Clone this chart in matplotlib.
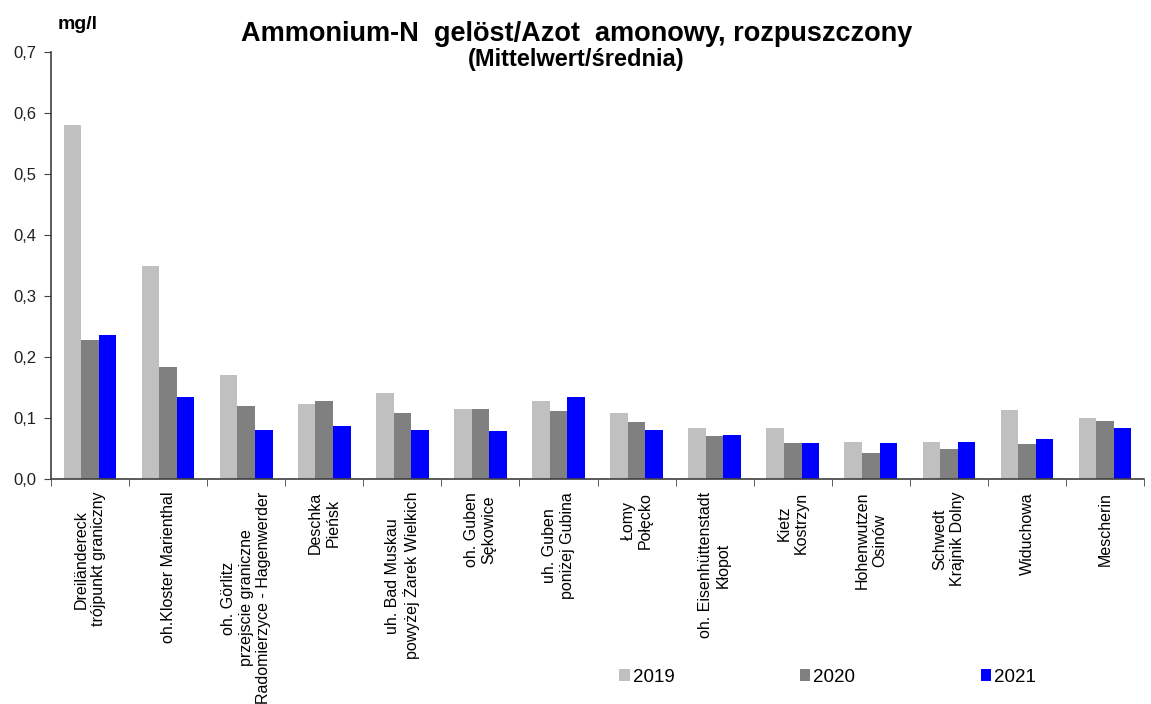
import numpy as np
import matplotlib
matplotlib.use("Agg")
import matplotlib.pyplot as plt
from matplotlib.ticker import FuncFormatter, FixedLocator

plt.rcParams['font.family'] = ['Liberation Sans', 'DejaVu Sans']

# measuring stations (German / Polish names)
stations = [
    "Dreiländereck\ntrójpunkt graniczny",
    "oh.Kloster Marienthal",
    "oh. Görlitz\nprzejscie graniczne\nRadomierzyce - Hagenwerder",
    "Deschka\nPieńsk",
    "uh. Bad Muskau\npowyżej Żarek Wielkich",
    "oh. Guben\nSękowice",
    "uh. Guben\nponiżej Gubina",
    "Łomy\nPołęcko",
    "oh. Eisenhüttenstadt\nKłopot",
    "Kietz\nKostrzyn",
    "Hohenwutzen\nOsinów",
    "Schwedt\nKrajnik Dolny",
    "Widuchowa",
    "Mescherin",
]
years = ["2019", "2020", "2021"]
v2019 = [0.580, 0.349, 0.171, 0.123, 0.142, 0.115, 0.129, 0.108, 0.085, 0.085, 0.062, 0.062, 0.113, 0.100]
v2020 = [0.228, 0.184, 0.121, 0.129, 0.108, 0.115, 0.112, 0.094, 0.071, 0.060, 0.043, 0.050, 0.058, 0.096]
v2021 = [0.237, 0.135, 0.081, 0.087, 0.081, 0.079, 0.135, 0.081, 0.073, 0.060, 0.060, 0.062, 0.066, 0.085]
colors = ["#c0c0c0", "#808080", "#0000ff"]

fig = plt.figure(figsize=(11.51, 7.04), dpi=100)
ax = fig.add_axes([0.0443, 0.319, 0.9497, 0.607])

x = np.arange(len(stations))
w = 0.225
for i, (vals, yr, c) in enumerate(zip([v2019, v2020, v2021], years, colors)):
    ax.bar(x + (i - 1) * w, vals, width=w, color=c, label=yr)

ax.set_xlim(-0.5, len(stations) - 0.5)
ax.set_ylim(0, 0.7)
ax.set_yticks(np.arange(0, 0.71, 0.1))
ax.yaxis.set_major_formatter(FuncFormatter(lambda v, p: f"{v:.1f}".replace(".", ",")))
ax.tick_params(axis='y', labelsize=12, direction='out', length=5, color='#404040',
               pad=5.5, labelcolor='#202020')

ax.set_xticks(x)
ax.set_xticklabels(stations, rotation=90, ha='center', va='top', ma='center', fontsize=11.5)
ax.xaxis.set_minor_locator(FixedLocator(np.arange(-0.5, len(stations), 1.0)))
ax.tick_params(axis='x', which='major', length=0, pad=9)
ax.tick_params(axis='x', which='minor', length=5, direction='out', color='#404040')

for s in ['top', 'right']:
    ax.spines[s].set_visible(False)
for s in ['left', 'bottom']:
    ax.spines[s].set_color('#404040')
    ax.spines[s].set_linewidth(1.2)

fig.text(0.050, 0.965, "mg/l", fontsize=14, fontweight='bold', ha='left', va='center')
fig.text(0.501, 0.952, "Ammonium-N  gelöst/Azot  amonowy, rozpuszczony",
         fontsize=19.5, fontweight='bold', ha='center', va='center')
fig.text(0.501, 0.915, "(Mittelwert/średnia)", fontsize=17, fontweight='bold',
         ha='center', va='center')

fig.legend(loc='center', bbox_to_anchor=(0.719, 0.038), ncol=3, frameon=False,
           fontsize=13.5, handlelength=0.55, handleheight=0.55, handletextpad=0.15,
           columnspacing=6.7)

fig.savefig("out.png", dpi=100)
